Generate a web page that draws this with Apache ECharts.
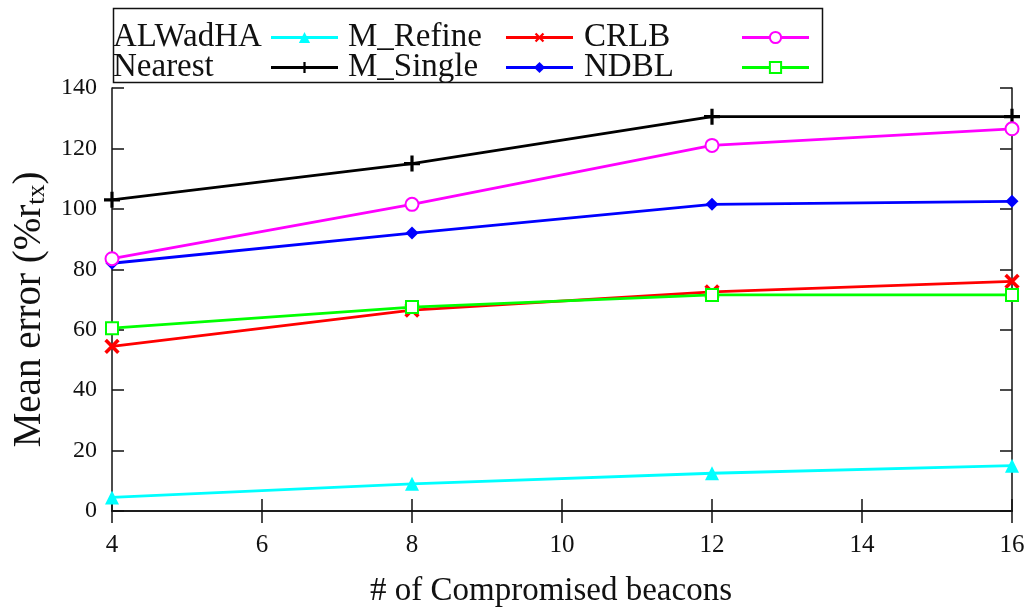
<!DOCTYPE html>
<html>
<head>
<meta charset="utf-8">
<script src="https://cdn.jsdelivr.net/npm/echarts@6/dist/echarts.min.js"></script>
<style>
html,body{margin:0;padding:0;background:#fff;}
#chart{width:1033px;height:608px;}
</style>
</head>
<body>
<div id="chart"></div>
<script>
// ---- data ----
const beacons = [4, 8, 12, 16];
const xTicks = [4, 6, 8, 10, 12, 14, 16];
const yTicks = [0, 20, 40, 60, 80, 100, 120, 140];
const ALWadHA  = [4.5, 9, 12.5, 15];
const M_Refine = [54.5, 66.5, 72.5, 76];
const CRLB     = [83.5, 101.5, 121, 126.5];
const Nearest  = [103, 115, 130.5, 130.5];
const M_Single = [82, 92, 101.5, 102.5];
const NDBL     = [60.5, 67.5, 71.5, 71.5];

const FONT = "'Liberation Serif','Times New Roman',serif";
const PLUS = 'path://M0,4H10V6H0Z M4,0H6V10H4Z';

function pts(vals){ return vals.map((v,i)=>[beacons[i], v]); }

const seriesDefs = [
  {name:'ALWadHA',  data:ALWadHA,  color:'#00ffff', symbol:'triangle',    size:14, rot:0},
  {name:'Nearest',  data:Nearest,  color:'#000000', symbol:PLUS,          size:16, rot:0},
  {name:'M_Refine', data:M_Refine, color:'#ff0000', symbol:PLUS,          size:18, rot:45},
  {name:'M_Single', data:M_Single, color:'#0000ff', symbol:'diamond',     size:13, rot:0},
  {name:'CRLB',     data:CRLB,     color:'#ff00ff', symbol:'emptyCircle', size:13, rot:0},
  {name:'NDBL',     data:NDBL,     color:'#00ff00', symbol:'emptyRect',   size:12, rot:0}
];

const series = seriesDefs.map(s => ({
  name: s.name,
  type: 'line',
  data: pts(s.data),
  xAxisIndex: 0, yAxisIndex: 0,
  symbol: s.symbol,
  symbolSize: s.size,
  symbolRotate: s.rot,
  showAllSymbol: true,
  color: s.color,
  lineStyle: {color: s.color, width: 2.8},
  itemStyle: {color: s.color, borderWidth: 2},
  animation: false,
  z: 3
}));

function legendAt(name, left, top){
  return {
    data: [name],
    left: left, top: top,
    orient: 'horizontal',
    align: 'right',
    padding: 0,
    itemWidth: 67,
    itemHeight: 14,
    itemGap: 0,
    selectedMode: false,
    lineStyle: {width: 3},
    formatter: '{t|{name}}',
    textStyle: {
      rich: {t: {width: 153, align: 'left', fontSize: 33, lineHeight: 30, fontFamily: FONT, color: '#111'}}
    }
  };
}

const axisLineStyle = {color: '#111', width: 1.5};
const tickStyle = {show: true, inside: true, length: 12, lineStyle: {color: '#111', width: 1.5}};

const chart = echarts.init(document.getElementById('chart'), null, {renderer: 'canvas'});
chart.setOption({
  animation: false,
  backgroundColor: '#fff',
  grid: {left: 112, right: 21, top: 88, bottom: 97, show: false, containLabel: false, outerBoundsMode: 'none'},
  legend: [
    legendAt('ALWadHA', 113, 21),
    legendAt('Nearest', 113, 51),
    legendAt('M_Refine', 348, 21),
    legendAt('M_Single', 348, 51),
    legendAt('CRLB', 584, 21),
    legendAt('NDBL', 584, 51)
  ],
  graphic: [{
    type: 'rect', left: 111, top: 6, z: 10,
    shape: {width: 709, height: 74},
    style: {fill: 'none', stroke: '#111', lineWidth: 1.5}
  }],
  xAxis: [{
    type: 'value', position: 'bottom',
    min: xTicks[0], max: xTicks[xTicks.length-1], interval: 2,
    name: '# of Compromised beacons', nameLocation: 'middle', nameGap: 64,
    nameTextStyle: {fontFamily: FONT, fontSize: 33, color: '#111', padding: [0, 22, 0, 0]},
    axisLine: {show: true, lineStyle: axisLineStyle},
    axisTick: tickStyle,
    axisLabel: {fontFamily: FONT, fontSize: 25, color: '#111', margin: 22},
    splitLine: {show: false}
  }, {
    type: 'value', position: 'top',
    min: xTicks[0], max: xTicks[xTicks.length-1], interval: 2,
    axisLine: {show: true, lineStyle: axisLineStyle},
    axisTick: tickStyle,
    axisLabel: {show: false},
    splitLine: {show: false}
  }],
  yAxis: [{
    type: 'value', position: 'left',
    min: yTicks[0], max: yTicks[yTicks.length-1], interval: 20,
    name: '{m|Mean error (%r}{s|tx}{m|)}', nameLocation: 'middle', nameGap: 62, nameRotate: 90,
    nameTextStyle: {
      padding: [0, 20, 0, 0],
      rich: {
        m: {fontFamily: FONT, fontSize: 39, color: '#111', lineHeight: 40, verticalAlign: 'middle'},
        s: {fontFamily: FONT, fontSize: 26, color: '#111', lineHeight: 26, padding: [18,0,0,0], verticalAlign: 'bottom'}
      }
    },
    axisLine: {show: true, lineStyle: axisLineStyle},
    axisTick: tickStyle,
    axisLabel: {fontFamily: FONT, fontSize: 24, color: '#111', margin: 15},
    splitLine: {show: false}
  }, {
    type: 'value', position: 'right',
    min: yTicks[0], max: yTicks[yTicks.length-1], interval: 20,
    axisLine: {show: true, lineStyle: axisLineStyle},
    axisTick: tickStyle,
    axisLabel: {show: false},
    splitLine: {show: false}
  }],
  series: series
});
</script>
</body>
</html>
